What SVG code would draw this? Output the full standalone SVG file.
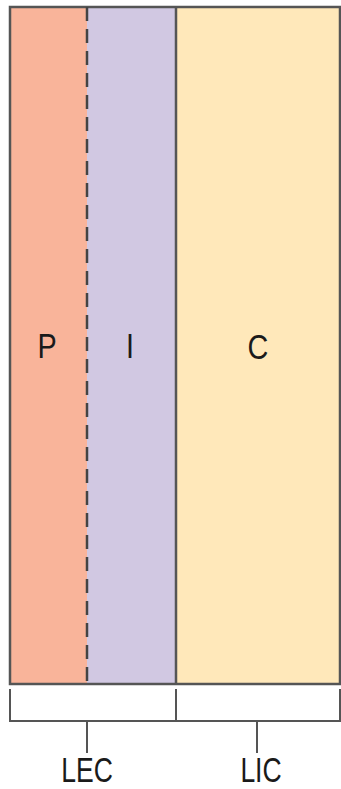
<svg xmlns="http://www.w3.org/2000/svg" width="341" height="789" viewBox="0 0 341 789">
<style>
.lbl{font-family:"Liberation Sans",Arial,sans-serif;font-size:36px;fill:#1a1a1a;text-anchor:middle}
.bot{font-size:34px}
.ln{stroke:#555;stroke-width:2;fill:none}
</style>
<rect width="341" height="789" fill="#fff"/>
<g id="zone-P">
<rect x="10" y="7" width="77" height="677" fill="#F9B49A"/>
<text class="lbl" transform="translate(47,358) scale(0.8,1)">P</text>
</g>
<g id="zone-I">
<rect x="87" y="7" width="89" height="677" fill="#D1C8E2"/>
<text class="lbl" transform="translate(130,358) scale(0.8,1)">I</text>
</g>
<g id="zone-C">
<rect x="176" y="7" width="164" height="677" fill="#FFE8BA"/>
<text class="lbl" transform="translate(258,359) scale(0.8,1)">C</text>
</g>
<g id="connectors">
<rect x="10" y="7" width="330" height="677" fill="none" stroke="#555" stroke-width="2.5"/>
<line x1="87" y1="7" x2="87" y2="684" stroke="#444" stroke-width="2.5" stroke-dasharray="14 8"/>
<line x1="176" y1="7" x2="176" y2="684" stroke="#555" stroke-width="2.5"/>
<path class="ln" d="M10,689 V721 H340 V689 M176,689 V721"/>
<line class="ln" x1="87" y1="721" x2="87" y2="753"/>
<line class="ln" x1="257" y1="721" x2="257" y2="753"/>
</g>
<g id="label-LEC">
<text class="lbl bot" transform="translate(87,781.5) scale(0.78,1.05)">LEC</text>
</g>
<g id="label-LIC">
<text class="lbl bot" transform="translate(261,781.5) scale(0.78,1.05)">LIC</text>
</g>
</svg>
